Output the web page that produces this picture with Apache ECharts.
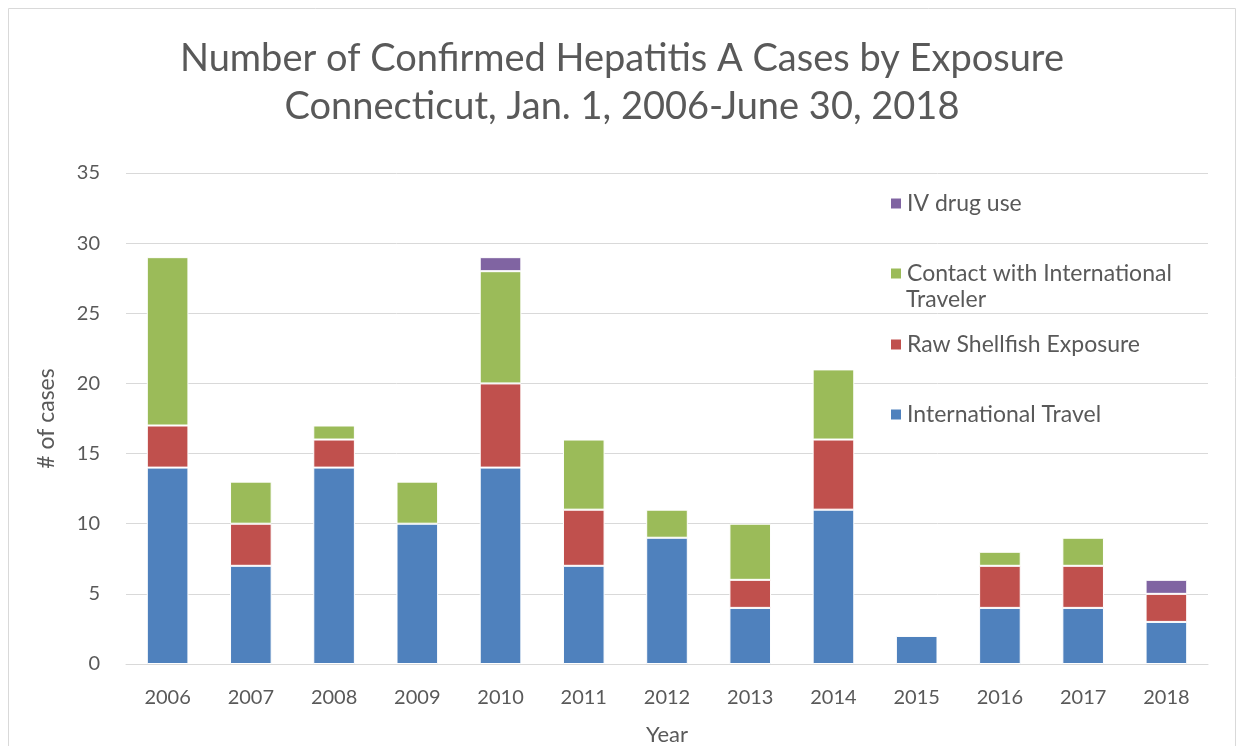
<!DOCTYPE html>
<html><head><meta charset="utf-8">
<script src="https://cdn.jsdelivr.net/npm/echarts@6/dist/echarts.min.js"></script>
<style>html,body{margin:0;padding:0;background:#fff}#c{width:1244px;height:746px}</style>
</head><body><div id="c"></div>
<script>
const years = ['2006','2007','2008','2009','2010','2011','2012','2013','2014','2015','2016','2017','2018'];
const intlTravel = [14,7,14,10,14,7,9,4,11,2,4,4,3];
const rawShellfish = [3,3,2,0,6,4,0,2,5,0,3,3,2];
const contactTraveler = [12,3,1,3,8,5,2,4,5,0,1,2,0];
const ivDrug = [0,0,0,0,1,0,0,0,0,0,0,0,1];
const yTicks = [0,5,10,15,20,25,30,35];

const FONT = 'Lato';
const GREY = '#595959';
const chart = echarts.init(document.getElementById('c'), null, {renderer:'canvas'});
const nz = a => a.map(v => v === 0 ? '-' : v);
function mk(name, data, color){
  return {name, type:'bar', stack:'t', data:nz(data), barWidth:'50%',
    itemStyle:{color, borderColor:'#fff', borderWidth:1}, emphasis:{disabled:true}};
}
function lg(name, top, fmt){
  const o = {orient:'vertical', left:884, top, itemWidth:12, itemHeight:12, icon:'rect',
    data:[name], selectedMode:false,
    textStyle:{fontFamily:FONT, fontSize:23, color:GREY}};
  if (fmt) o.formatter = fmt;
  return o;
}
chart.setOption({
  animation:false,
  title:{text:'Number of Confirmed Hepatitis A Cases by Exposure\nConnecticut, Jan. 1, 2006-June 30, 2018',
    left:'center', top:30, textStyle:{fontFamily:FONT, fontSize:38, fontWeight:'normal', color:GREY, lineHeight:48}},
  graphic:[
    {type:'rect', shape:{x:8.5,y:8.5,width:1227,height:760}, style:{fill:'none', stroke:'#d9d9d9', lineWidth:1}, silent:true},
    {type:'text', left:906, top:288, style:{text:'Traveler', font:'23px Lato', fill:GREY}, silent:true}
  ],
  legend:[
    lg('IV drug use', 187),
    lg('Contact with International Traveler', 257, () => 'Contact with International'),
    lg('Raw Shellfish Exposure', 328),
    lg('International Travel', 398)
  ],
  grid:{left:126, right:36, top:173, bottom:82, outerBoundsMode:'none', containLabel:false},
  xAxis:{type:'category', data:years, name:'Year', nameLocation:'middle', nameGap:60,
    nameTextStyle:{fontFamily:FONT, fontSize:22, color:GREY},
    axisLine:{lineStyle:{color:'#d9d9d9'}}, axisTick:{show:false},
    axisLabel:{fontFamily:FONT, fontSize:20, color:GREY, margin:24}},
  yAxis:{type:'value', min:0, max:35, interval:5, name:'# of cases', nameLocation:'middle', nameGap:68,
    nameTextStyle:{fontFamily:FONT, fontSize:23, color:GREY},
    axisLine:{show:false}, axisTick:{show:false},
    axisLabel:{fontFamily:FONT, fontSize:20, color:GREY, margin:26,
      formatter:v => yTicks.includes(v) ? String(v) : ''},
    splitLine:{lineStyle:{color:'#d9d9d9'}}},
  series:[
    mk('International Travel', intlTravel, '#4F81BD'),
    mk('Raw Shellfish Exposure', rawShellfish, '#C0504D'),
    mk('Contact with International Traveler', contactTraveler, '#9BBB59'),
    mk('IV drug use', ivDrug, '#8064A2')
  ]
});
</script></body></html>
